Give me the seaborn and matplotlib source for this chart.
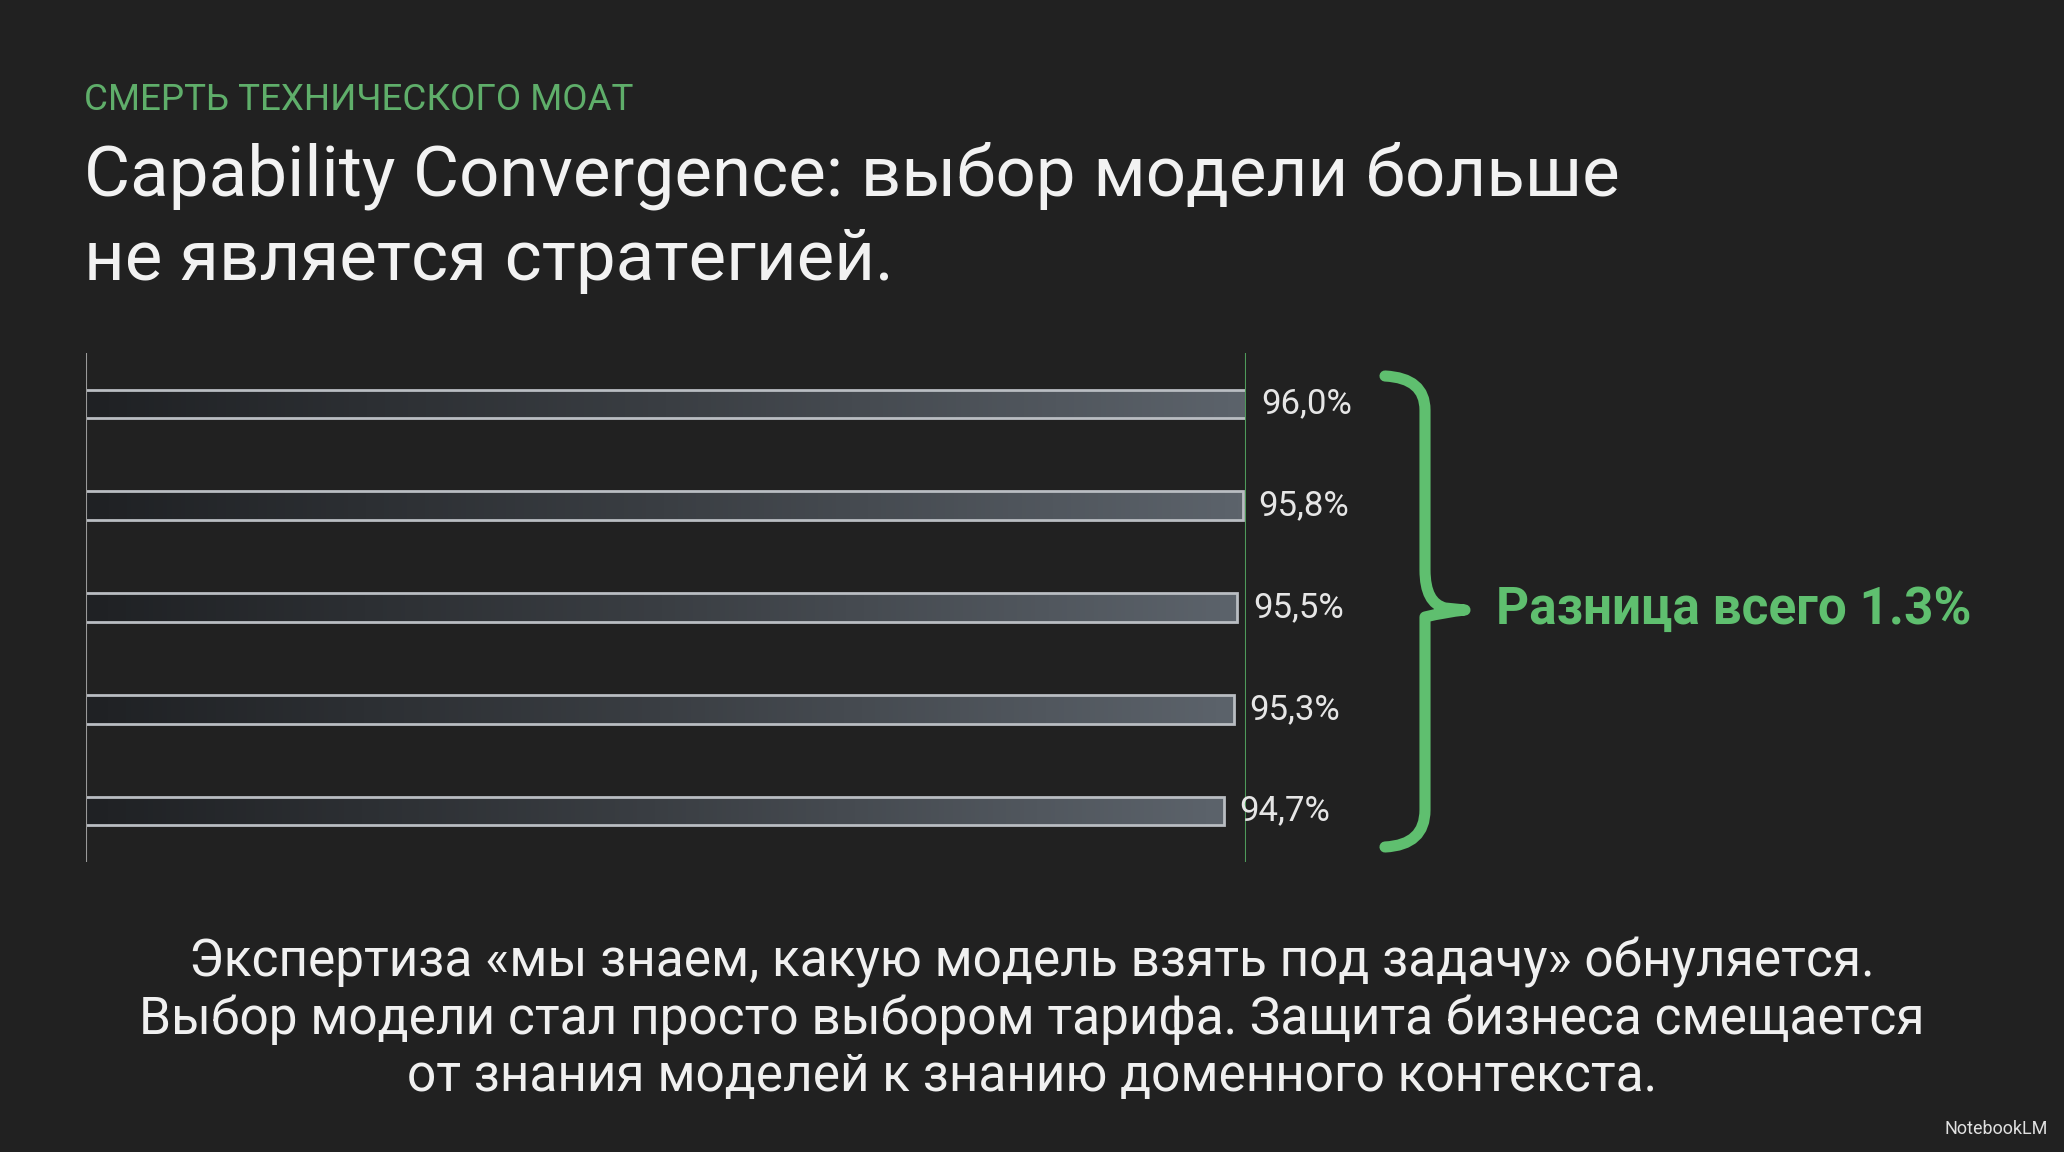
import numpy as np
import pandas as pd
import matplotlib
matplotlib.use("Agg")
import matplotlib.pyplot as plt
import seaborn as sns
from matplotlib.path import Path
from matplotlib.patches import PathPatch

models = ["A", "B", "C", "D", "E"]
scores = [96.0, 95.8, 95.5, 95.3, 94.7]
labels = ["96,0%", "95,8%", "95,5%", "95,3%", "94,7%"]

sns.set_theme(style="dark")
plt.rcParams['font.family'] = ['Roboto', 'DejaVu Sans']
BG = "#212121"
GREEN = "#5fbf6f"

fig = plt.figure(figsize=(20.64, 11.52), dpi=100, facecolor=BG)
ax = fig.add_axes([0.0417, 0.2517, 0.562, 0.4419])
ax.set_facecolor("none")
df = pd.DataFrame({"model": models, "score": scores})
sns.barplot(data=df, x="score", y="model", ax=ax, orient="h", width=0.28,
            color="#4a4f55", edgecolor="#b9bdc2", linewidth=2)
ax.set_xlim(28.3, 96.0)
ax.set_ylim(4.5, -0.5)
for s in ax.spines.values():
    s.set_visible(False)
ax.set_xticks([]); ax.set_yticks([])
ax.set_xlabel(""); ax.set_ylabel("")
ax.axvline(28.3, color="#9a9a9a", lw=1.5)
ax.axvline(96.0, color="#4f9a5a", lw=1.5)

grad = np.linspace(0, 1, 256).reshape(1, -1)
cmap = matplotlib.colors.LinearSegmentedColormap.from_list("g", ["#1f2124", "#3a3e43", "#5c636b"])
for p in ax.patches:
    x0, y0 = p.get_x(), p.get_y()
    w, h = p.get_width(), p.get_height()
    im = ax.imshow(grad, cmap=cmap, aspect="auto", extent=[28.3, x0 + w, y0 + h, y0], zorder=p.get_zorder() - 0.1)
    im.set_clip_path(p)
    p.set_facecolor("none")
ax.set_xlim(28.3, 96.0)
ax.set_ylim(4.5, -0.5)

for i, (s, lab) in enumerate(zip(scores, labels)):
    ax.text(s + 0.9, i, lab, color="#e6e6e6", fontsize=25, va="center", ha="left")

ov = fig.add_axes([0, 0, 1, 1], facecolor="none")
ov.set_xlim(0, 2064); ov.set_ylim(1152, 0); ov.axis("off")

ov.text(84, 100, "СМЕРТЬ ТЕХНИЧЕСКОГО МОАТ", color="#5fae6a", fontsize=26.5, va="center", ha="left")
ov.text(84, 176, "Capability Convergence: выбор модели больше", color="#f2f2f2", fontsize=51, va="center", ha="left")
ov.text(84, 261, "не является стратегией.", color="#f2f2f2", fontsize=51, va="center", ha="left")

verts = [(1385, 376), (1425, 378), (1425, 410), (1425, 430),
         (1425, 570), (1425, 603), (1445, 608), (1465, 610),
         (1445, 612), (1425, 617), (1425, 650),
         (1425, 810), (1425, 845), (1385, 847)]
codes = [Path.MOVETO, Path.CURVE3, Path.CURVE3, Path.LINETO,
         Path.LINETO, Path.CURVE3, Path.CURVE3, Path.LINETO,
         Path.CURVE3, Path.CURVE3, Path.LINETO,
         Path.LINETO, Path.CURVE3, Path.CURVE3]
ov.add_patch(PathPatch(Path(verts, codes), fill=False, edgecolor=GREEN, lw=8, capstyle="round", joinstyle="round"))
ov.text(1496, 610, "Разница всего 1.3%", color=GREEN, fontsize=37, fontweight="bold", va="center", ha="left")

for y, line in zip([963, 1020, 1077], [
        "Экспертиза «мы знаем, какую модель взять под задачу» обнуляется.",
        "Выбор модели стал просто выбором тарифа. Защита бизнеса смещается",
        "от знания моделей к знанию доменного контекста."]):
    ov.text(1032, y, line, color="#f0f0f0", fontsize=37, va="center", ha="center")

ov.text(2048, 1129, "NotebookLM", color="#e0e0e0", fontsize=13, va="center", ha="right")

fig.savefig("out.png", dpi=100, facecolor=BG)
